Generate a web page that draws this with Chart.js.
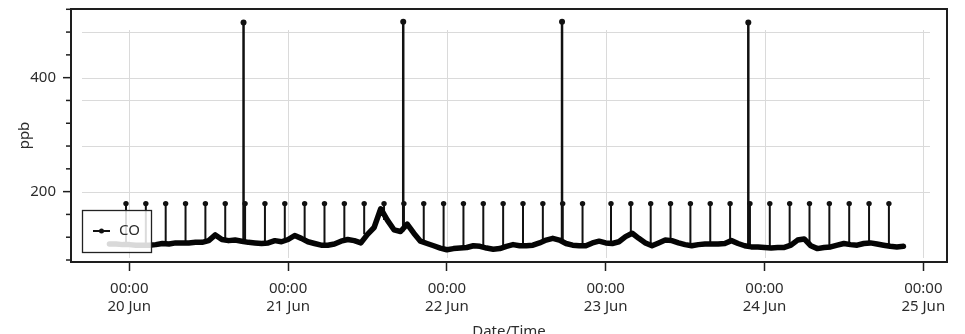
<!DOCTYPE html>
<html>
<head>
<meta charset="utf-8">
<script src="https://cdn.jsdelivr.net/npm/chart.js@4.4.1/dist/chart.umd.min.js"></script>
<style>
  html, body { margin: 0; padding: 0; background: #fff; overflow: hidden; }
  #wrap { width: 965px; height: 345px; }
</style>
</head>
<body>
<div id="wrap"><canvas id="c" width="965" height="345"></canvas></div>
<script>
// CO concentration (ppb), hourly readings from 19 Jun 21:00 to 24 Jun 21:00
const seriesName = 'CO';
const readingStart = '19 Jun 21:00';
const coHourly = [
  108, 108, 107,
  107, 106, 106, 106, 107, 109, 108, 110, 110, 110, 111, 111, 114, 124, 116, 114, 115, 113, 111, 110, 109, 110, 114, 112,
  116, 123, 118, 112, 109, 106, 106, 108, 113, 116, 114, 110, 125, 137, 170, 150, 133, 130, 143, 127, 113, 109, 105, 101,
  98, 100, 101, 102, 105, 104, 101, 99, 100, 104, 107, 105, 105, 106, 110, 115, 118, 115, 109, 106, 105, 105, 110, 113,
  110, 109, 112, 121, 127, 118, 110, 105, 110, 115, 114, 110, 107, 105, 107, 108, 108, 108, 109, 114, 109, 105, 103, 103,
  102, 101, 102, 102, 106, 115, 117, 105, 100, 102, 103, 106, 109, 107, 106, 109, 110, 108, 106, 104, 103, 104
];

// Three-hourly zero/span check pulses
const pulseTimes = [
  '19 Jun 23:30', '20 Jun 02:30', '20 Jun 05:30', '20 Jun 08:30', '20 Jun 11:30', '20 Jun 14:30', '20 Jun 17:30', '20 Jun 20:30',
  '20 Jun 23:30', '21 Jun 02:30', '21 Jun 05:30', '21 Jun 08:30', '21 Jun 11:30', '21 Jun 14:30', '21 Jun 17:30', '21 Jun 20:30',
  '21 Jun 23:30', '22 Jun 02:30', '22 Jun 05:30', '22 Jun 08:30', '22 Jun 11:30', '22 Jun 14:30', '22 Jun 17:30', '22 Jun 20:30',
  '23 Jun 00:48', '23 Jun 03:48', '23 Jun 06:48', '23 Jun 09:48', '23 Jun 12:48', '23 Jun 15:48', '23 Jun 18:48', '23 Jun 21:48',
  '24 Jun 00:48', '24 Jun 03:48', '24 Jun 06:48', '24 Jun 09:48', '24 Jun 12:48', '24 Jun 15:48', '24 Jun 18:48'
];
const pulseValues = [
  179, 179, 179, 179, 179, 179, 179, 179,
  179, 179, 179, 179, 179, 179, 179, 179,
  179, 179, 179, 179, 179, 179, 179, 179,
  179, 179, 179, 179, 179, 179, 179, 179,
  179, 179, 179, 179, 179, 179, 179
];

// Daily high span checks
const spanTimes = ['20 Jun 17:16', '21 Jun 17:24', '22 Jun 17:24', '23 Jun 21:33'];
const spanValues = [497, 498, 498, 497];

// Axis ticks (x in hours from 20 Jun 00:00)
const dayTicks = [0, 24, 48, 72, 96, 120];
const dayLabels = ['20 Jun', '21 Jun', '22 Jun', '23 Jun', '24 Jun', '25 Jun'];
const timeLabel = '00:00';
const yTicks = [80, 120, 160, 200, 240, 280, 320, 360, 400, 440, 480, 520];
const yLabelled = [200, 400];
const yGridValues = [200, 280, 360, 400, 480];

function hoursOf(stamp) {
  const [d, , hm] = stamp.split(' ');
  const [h, m] = hm.split(':');
  return (Number(d) - 20) * 24 + Number(h) + Number(m) / 60;
}

const t0 = hoursOf(readingStart);
const coPoints = coHourly.map((v, i) => ({ x: t0 + i, y: v }));

function baseAt(t) {
  let i = Math.round(t - t0);
  i = Math.max(0, Math.min(coHourly.length - 1, i));
  return coHourly[i];
}

function spikePoints(times, values) {
  const pts = [];
  times.forEach((s, i) => {
    const t = hoursOf(s);
    pts.push({ x: t, y: baseAt(t) });
    pts.push({ x: t, y: values[i], top: true });
    pts.push({ x: t, y: null });
  });
  return pts;
}

const FONT = '"Noto Sans", "Open Sans", sans-serif';
const TEXT = '#2c2c2c';

function noEdgePadding(s) {
  s.paddingTop = 0; s.paddingBottom = 0; s.paddingLeft = 0; s.paddingRight = 0;
}

// light inner grid
const gridPlugin = {
  id: 'innerGrid',
  beforeDatasetsDraw(chart) {
    const { ctx, chartArea: a, scales: { x, y } } = chart;
    const l = a.left + 11, r = a.right - 17, t = a.top + 21, b = a.bottom - 4;
    ctx.save();
    ctx.strokeStyle = '#dadada';
    ctx.lineWidth = 1;
    yGridValues.forEach(v => {
      const py = Math.round(y.getPixelForValue(v)) + 0.5;
      ctx.beginPath(); ctx.moveTo(l, py); ctx.lineTo(r, py); ctx.stroke();
    });
    dayTicks.forEach(v => {
      const px = Math.round(x.getPixelForValue(v)) + 0.5;
      ctx.beginPath(); ctx.moveTo(px, t); ctx.lineTo(px, b); ctx.stroke();
    });
    ctx.restore();
  }
};

// plot frame, y tick marks and legend box
const framePlugin = {
  id: 'frame',
  afterDraw(chart) {
    const { ctx, chartArea: a, scales: { y } } = chart;
    ctx.save();
    ctx.strokeStyle = '#1e1e1e';
    ctx.lineWidth = 2;
    ctx.strokeRect(a.left, a.top, a.right - a.left, a.bottom - a.top);

    ctx.lineWidth = 1.5;
    yTicks.forEach(v => {
      const py = y.getPixelForValue(v);
      const len = yLabelled.includes(v) ? 8 : 5;
      ctx.beginPath(); ctx.moveTo(a.left - len, py); ctx.lineTo(a.left, py); ctx.stroke();
    });

    // legend
    const lx = a.left + 11, ly = a.bottom - 52, lw = 69, lh = 42;
    ctx.fillStyle = 'rgba(255,255,255,0.85)';
    ctx.fillRect(lx, ly, lw, lh);
    ctx.strokeStyle = '#222';
    ctx.lineWidth = 1.3;
    ctx.strokeRect(lx + 0.5, ly + 0.5, lw, lh);
    const my = ly + 21;
    ctx.strokeStyle = '#111';
    ctx.lineWidth = 2;
    ctx.beginPath(); ctx.moveTo(lx + 11, my); ctx.lineTo(lx + 28, my); ctx.stroke();
    ctx.fillStyle = '#111';
    ctx.beginPath(); ctx.arc(lx + 19.5, my, 2.5, 0, Math.PI * 2); ctx.fill();
    ctx.fillStyle = TEXT;
    ctx.font = '15px ' + FONT;
    ctx.textBaseline = 'middle';
    ctx.textAlign = 'left';
    ctx.fillText(seriesName, lx + 37, my);
    ctx.restore();
  }
};

new Chart(document.getElementById('c'), {
  type: 'line',
  data: {
    datasets: [
      {
        label: seriesName,
        data: coPoints,
        borderColor: '#050505',
        borderWidth: 5.5,
        borderJoinStyle: 'round',
        borderCapStyle: 'round',
        pointRadius: 0,
        tension: 0,
        fill: false
      },
      {
        label: seriesName + ' pulses',
        data: spikePoints(pulseTimes, pulseValues),
        borderColor: '#111',
        backgroundColor: '#111',
        borderWidth: 2,
        pointRadius: c => (c.raw && c.raw.top ? 2.7 : 0),
        pointBorderWidth: 0,
        spanGaps: false,
        tension: 0,
        fill: false
      },
      {
        label: seriesName + ' span',
        data: spikePoints(spanTimes, spanValues),
        borderColor: '#111',
        backgroundColor: '#111',
        borderWidth: 2.5,
        pointRadius: c => (c.raw && c.raw.top ? 3 : 0),
        pointBorderWidth: 0,
        spanGaps: false,
        tension: 0,
        fill: false
      }
    ]
  },
  options: {
    responsive: false,
    animation: false,
    devicePixelRatio: 1,
    layout: { padding: { left: 0, right: 18, top: 9, bottom: 0 } },
    plugins: { legend: { display: false }, tooltip: { enabled: false } },
    scales: {
      x: {
        type: 'linear',
        min: -8.81,
        max: 123.58,
        afterFit(s) { s.height = 83; noEdgePadding(s); },
        afterBuildTicks(s) { s.ticks = dayTicks.map(v => ({ value: v })); },
        border: { display: false },
        grid: { drawOnChartArea: false, drawTicks: true, tickLength: 9, tickColor: '#1e1e1e', tickWidth: 1.5 },
        ticks: {
          padding: 9,
          color: TEXT,
          font: { family: FONT, size: 15 },
          maxRotation: 0,
          autoSkip: false,
          callback: v => [timeLabel, dayLabels[dayTicks.indexOf(v)]]
        },
        title: { display: true, text: 'Date/Time', color: TEXT, font: { family: FONT, size: 15 }, padding: { top: 4, bottom: 4 } }
      },
      y: {
        min: 76.5,
        max: 520.5,
        afterFit(s) { s.width = 71; noEdgePadding(s); },
        afterBuildTicks(s) { s.ticks = yTicks.map(v => ({ value: v })); },
        border: { display: false },
        grid: { display: true, drawOnChartArea: false, drawTicks: false },
        ticks: {
          padding: 15,
          color: TEXT,
          font: { family: FONT, size: 15 },
          autoSkip: false,
          callback: v => (yLabelled.includes(v) ? String(v) : '')
        },
        title: { display: true, text: 'ppb', color: TEXT, font: { family: FONT, size: 15 }, padding: { top: 16, bottom: 0 } }
      }
    }
  },
  plugins: [gridPlugin, framePlugin]
});
</script>
</body>
</html>
